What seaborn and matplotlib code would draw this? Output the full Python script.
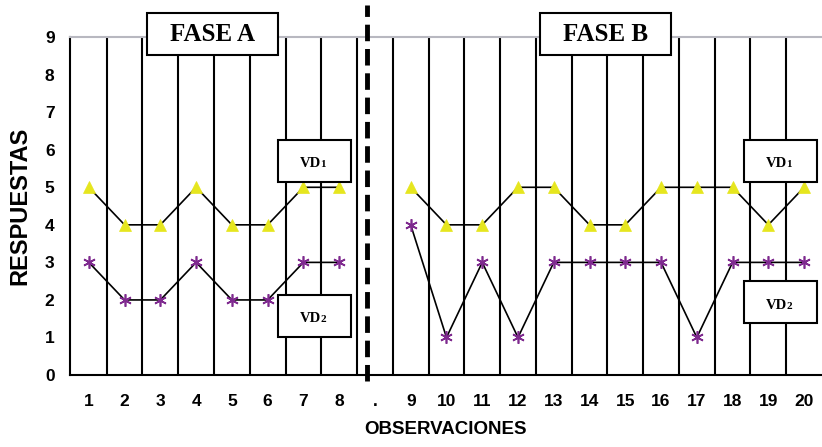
import numpy as np
import pandas as pd
import matplotlib
matplotlib.use("Agg")
import matplotlib.pyplot as plt
import seaborn as sns
from matplotlib.patches import Rectangle

# categorias del eje X (el "." separa las fases)
categorias = ['1', '2', '3', '4', '5', '6', '7', '8', '.',
              '9', '10', '11', '12', '13', '14', '15', '16', '17', '18', '19', '20']
obs_a = ['1', '2', '3', '4', '5', '6', '7', '8']
obs_b = ['9', '10', '11', '12', '13', '14', '15', '16', '17', '18', '19', '20']

vd1_a = [5, 4, 4, 5, 4, 4, 5, 5]
vd2_a = [3, 2, 2, 3, 2, 2, 3, 3]
vd1_b = [5, 4, 4, 5, 5, 4, 4, 5, 5, 5, 4, 5]
vd2_b = [4, 1, 3, 1, 3, 3, 3, 3, 1, 3, 3, 3]

amarillo = '#E6E61E'
morado = '#7F2A8F'

sns.set_style("white", {'text.color': 'black', 'axes.labelcolor': 'black',
                        'xtick.color': 'black', 'ytick.color': 'black'})
plt.rcParams['font.family'] = ['Liberation Sans', 'DejaVu Sans']

fig = plt.figure(figsize=(8.22, 4.47), dpi=100)
ax = fig.add_axes([0.085, 0.161, 0.915, 0.756])

pos = {c: i for i, c in enumerate(categorias)}

def serie(obs, valores, fase, vd):
    return pd.DataFrame({'x': [pos[o] for o in obs], 'y': valores, 'fase': fase, 'vd': vd})

df = pd.concat([serie(obs_a, vd1_a, 'A', 'VD1'), serie(obs_b, vd1_b, 'B', 'VD1'),
                serie(obs_a, vd2_a, 'A', 'VD2'), serie(obs_b, vd2_b, 'B', 'VD2')])

# lineas de separacion entre observaciones
for b in np.arange(0.5, len(categorias) - 0.5, 1.0):
    ax.axvline(b, color='black', lw=1.5, zorder=1)

for (vd, fase), sub in df.groupby(['vd', 'fase']):
    if vd == 'VD1':
        sns.lineplot(data=sub, x='x', y='y', ax=ax, color='black', lw=1.2,
                     marker='^', markersize=9, markerfacecolor=amarillo,
                     markeredgecolor=amarillo, markeredgewidth=0.5, zorder=3)
    else:
        sns.lineplot(data=sub, x='x', y='y', ax=ax, color='black', lw=1.2,
                     marker=(6, 2, 0), markersize=9, markeredgecolor=morado,
                     markeredgewidth=1.2, zorder=3)

# linea discontinua de cambio de fase
ax.plot([7.78, 7.78], [-0.15, 9.85], color='black', lw=3.5, ls=(0, (3.4, 1.6)),
        clip_on=False, zorder=4)

ax.set_xlim(-0.53, 20.3)
ax.set_ylim(0, 9)
ax.set_xticks(range(len(categorias)))
ax.set_xticklabels(categorias, fontsize=12.5, fontweight='bold')
ax.set_xticks(np.arange(-0.5, len(categorias), 1.0), minor=True)
ax.tick_params(axis='x', which='major', length=0, pad=14)
ax.tick_params(axis='x', which='minor', length=7, width=1.5, color='black', direction='out')
ax.set_yticks(range(0, 10))
ax.set_yticklabels([str(v) for v in range(0, 10)], fontsize=12.5, fontweight='bold')
ax.tick_params(axis='y', length=5, width=1.5, color='black', direction='out', pad=6)

for s in ['left', 'bottom']:
    ax.spines[s].set_color('black')
    ax.spines[s].set_linewidth(1.5)
ax.spines['right'].set_visible(False)
ax.spines['top'].set_color('#B8B8C0')
ax.spines['top'].set_linewidth(1.5)

ax.set_xlabel('OBSERVACIONES', fontsize=13.5, fontweight='bold', labelpad=8)
ax.set_ylabel('RESPUESTAS', fontsize=17, fontweight='bold', labelpad=10)

serif = ['Liberation Serif', 'DejaVu Serif']

# cuadros de texto
cajas = [
    ('FASE A', '', 1.63, 8.52, 3.65, 1.12),
    ('FASE B', '', 12.61, 8.52, 3.68, 1.12),
    ('VD', '1', 5.28, 5.14, 2.05, 1.12),
    ('VD', '2', 5.28, 1.01, 2.05, 1.12),
    ('VD', '1', 18.31, 5.14, 2.05, 1.12),
    ('VD', '2', 18.31, 1.38, 2.05, 1.12),
]
for txt, sub_txt, x0, y0, w, h in cajas:
    ax.add_patch(Rectangle((x0, y0), w, h, facecolor='white', edgecolor='black',
                           lw=1.5, clip_on=False, zorder=5))
    cx, cy = x0 + w / 2, y0 + h / 2
    if sub_txt == '':
        ax.text(cx, cy, txt, ha='center', va='center', fontsize=18,
                fontweight='bold', family=serif, zorder=6)
    else:
        ax.text(cx + 0.2, cy - 0.17, txt, ha='right', va='baseline', fontsize=10.5,
                fontweight='bold', family=serif, zorder=6)
        ax.text(cx + 0.16, cy - 0.17, sub_txt, ha='left', va='baseline', fontsize=8,
                fontweight='bold', family=serif, zorder=6)

fig.savefig('out.png', dpi=100)
